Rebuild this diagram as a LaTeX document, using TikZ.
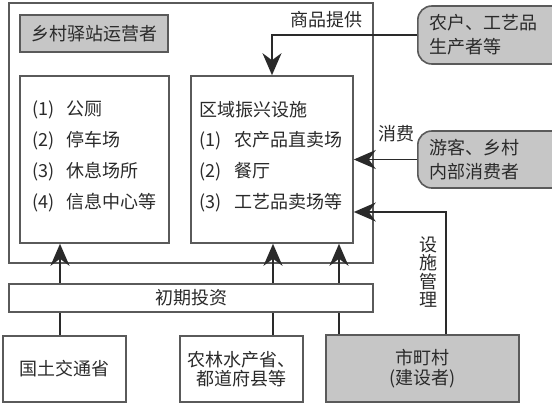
\documentclass[tikz,border=0pt]{standalone}
\usepackage{fontspec}
\setmainfont{Noto Sans CJK SC}
\usetikzlibrary{arrows.meta,calc}
\definecolor{boxline}{HTML}{5A5A5A}
\definecolor{grayfill}{HTML}{C6C6C6}
\definecolor{txt}{HTML}{2A2A2A}
\definecolor{arrc}{HTML}{2A2A2A}
\begin{document}
\begin{tikzpicture}[x=1pt,y=-1pt,
  box/.style={draw=boxline, line width=1.6pt, rectangle, inner sep=0pt, text=txt,
              font=\fontsize{18}{21}\selectfont, align=center},
  graybox/.style={box, fill=grayfill},
  roundbox/.style={graybox, rounded corners=14pt, anchor=west, minimum height=58pt,
              text width=140pt, inner xsep=12pt, align=left,
              font=\fontsize{18}{24}\selectfont},
  lbl/.style={text=txt, font=\fontsize{18}{21}\selectfont, inner sep=0pt},
  listtext/.style={lbl, align=left, font=\fontsize{18}{30.8}\selectfont},
  ln/.style={draw=arrc, line width=1.8pt},
  arr/.style={ln, -{Stealth[length=22pt,width=19pt,inset=7pt]}},
]
\useasboundingbox (0,0) rectangle (552,407);

% main frame and inner boxes
\node[box, minimum width=364pt, minimum height=260pt] (frame) at (191,133) {};
\node[graybox, minimum width=148pt, minimum height=37pt] (op) at (94,33.5) {乡村驿站运营者};
\node[box, minimum width=149pt, minimum height=167pt] (left) at (94.5,159.5) {};
\node[box, minimum width=162pt, minimum height=167pt] (right) at (272,159.5) {};
\node[listtext] (ltext) at (94.5,156.5)
  {(1)\hspace{0.7em}公厕\\(2)\hspace{0.7em}停车场\\(3)\hspace{0.7em}休息场所\\(4)\hspace{0.7em}信息中心等};
\node[listtext] (rtext) at (271,156.5)
  {区域振兴设施\\(1)\hspace{0.7em}农产品直卖场\\(2)\hspace{0.7em}餐厅\\(3)\hspace{0.7em}工艺品卖场等};

% external actors
\node[roundbox] (farmer) at (417,35) {农户、工艺品\\生产者等};
\node[roundbox, minimum height=57pt] (consumer) at (417,159.5) {游客、乡村\\内部消费者};

% bottom boxes
\node[box, minimum width=123pt, minimum height=66pt] (guotu) at (64.5,369) {国土交通省};
\node[box, minimum width=123pt, minimum height=66pt, font=\fontsize{18}{19}\selectfont] (nonglin) at (241.5,369) {农林水产省、\\都道府县等};
\node[graybox, minimum width=193pt, minimum height=67pt, font=\fontsize{18}{20}\selectfont] (city) at (422.5,368.5) {市町村\\(建设者)};

% initial investment bar
\node[box, fill=white, minimum width=364pt, minimum height=28pt] (invest) at (191,298) {初期投资};

% labels
\node[lbl] (lsupply) at (326,20) {商品提供};
\node[lbl] (lconsume) at (396,134) {消费};
\node[lbl, align=center, font=\fontsize{18}{18.5}\selectfont] (lmanage) at (428,272) {设\\施\\管\\理};

% connectors
\draw[arr] (farmer.west) -| (right.north);
\draw[arr] (consumer.west) -- (consumer.west -| right.east);
\draw[arr] ([xshift=23.5pt]city.north) |- ([yshift=-52.5pt]right.east);

\draw[ln] ([xshift=-4.5pt]guotu.north) -- ([xshift=-4.5pt]guotu.north |- invest.south);
\draw[arr] ([xshift=-4.5pt]guotu.north |- invest.north) -- ([xshift=-4.5pt]guotu.north |- left.south);

\draw[ln] ([xshift=31.5pt]nonglin.north) -- ([xshift=31.5pt]nonglin.north |- invest.south);
\draw[arr] ([xshift=31.5pt]nonglin.north |- invest.north) -- ([xshift=31.5pt]nonglin.north |- right.south);

\draw[ln] ([xshift=-83.5pt]city.north) -- ([xshift=-83.5pt]city.north |- invest.south);
\draw[arr] ([xshift=-83.5pt]city.north |- invest.north) -- ([xshift=-83.5pt]city.north |- right.south);
\end{tikzpicture}
\end{document}
